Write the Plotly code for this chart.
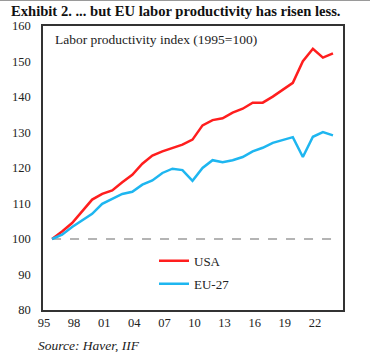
import plotly.graph_objects as go

years = list(range(1995, 2024))
usa = [100.0, 102.1, 104.5, 107.8, 111.1, 112.7, 113.7, 116.0, 118.1, 121.2,
       123.5, 124.7, 125.7, 126.6, 128.0, 132.0, 133.5, 134.0, 135.6, 136.7,
       138.4, 138.4, 140.1, 142.1, 144.0, 150.1, 153.6, 151.1, 152.3]
eu27 = [100.0, 101.2, 103.4, 105.2, 107.1, 109.9, 111.3, 112.7, 113.3, 115.3,
        116.5, 118.6, 119.8, 119.4, 116.4, 120.0, 122.2, 121.6, 122.2, 123.1,
        124.7, 125.7, 127.1, 127.8, 128.7, 123.1, 128.8, 130.1, 129.2]
baseline = 100
tick_years = [1995, 1998, 2001, 2004, 2007, 2010, 2013, 2016, 2019, 2022]
tick_text = ["95", "98", "01", "04", "07", "10", "13", "16", "19", "22"]
y_ticks = [80, 90, 100, 110, 120, 130, 140, 150, 160]

SERIF = "Liberation Serif"

fig = go.Figure()
fig.add_trace(go.Scatter(x=years, y=[baseline] * len(years), mode="lines",
                         line=dict(color="#B4B4B4", width=2, dash="dash"),
                         showlegend=False, hoverinfo="skip"))
fig.add_trace(go.Scatter(x=years, y=usa, mode="lines", name="USA",
                         legendgroup="a", line=dict(color="#FF1E1E", width=2.5)))
fig.add_trace(go.Scatter(x=years, y=eu27, mode="lines", name="EU-27",
                         legendgroup="b", line=dict(color="#1EB6F0", width=2.5)))

fig.update_layout(
    width=370, height=352,
    margin=dict(l=39, r=27, t=26, b=42),
    paper_bgcolor="white", plot_bgcolor="white",
    font=dict(family=SERIF, size=12, color="#222222"),
    showlegend=True,
    legend=dict(x=0.37, y=0.226, xanchor="left", yanchor="top",
                traceorder="grouped", tracegroupgap=3,
                font=dict(family=SERIF, size=13, color="#222222"),
                bgcolor="rgba(0,0,0,0)", itemwidth=30),
    xaxis=dict(range=[1994.1, 2024.0], tickvals=[t - 0.8 for t in tick_years],
               ticktext=tick_text, showgrid=False, zeroline=False,
               showline=True, linecolor="#333333", linewidth=1.5, mirror=True,
               ticks="", tickfont=dict(family=SERIF, size=12.5, color="#222222")),
    yaxis=dict(range=[80, 160], tickvals=y_ticks, showgrid=False, zeroline=False,
               showline=True, linecolor="#333333", linewidth=1.5, mirror=True,
               ticks="", ticklabelstandoff=8,
               tickfont=dict(family=SERIF, size=12.5, color="#222222")),
    shapes=[dict(type="line", xref="paper", yref="paper", x0=-0.2, x1=1.2,
                 y0=1.0914, y1=1.0914, line=dict(color="#9A9A9A", width=2))],
    annotations=[
        dict(text="<b>Exhibit 2. ... but EU labor productivity has risen less.</b>",
             xref="paper", yref="paper", x=-0.112, y=1.053, xanchor="left",
             yanchor="middle", showarrow=False,
             font=dict(family=SERIF, size=14.6, color="#111111")),
        dict(text="Labor productivity index (1995=100)", xref="paper", yref="paper",
             x=0.032, y=0.985, xanchor="left", yanchor="top", showarrow=False,
             font=dict(family=SERIF, size=13.5, color="#222222")),
        dict(text="<i>Source: Haver, IIF</i>", xref="paper", yref="paper",
             x=-0.025, y=-0.09, xanchor="left", yanchor="top", showarrow=False,
             font=dict(family=SERIF, size=13.5, color="#222222")),
    ],
)

fig.write_html("out.html")
